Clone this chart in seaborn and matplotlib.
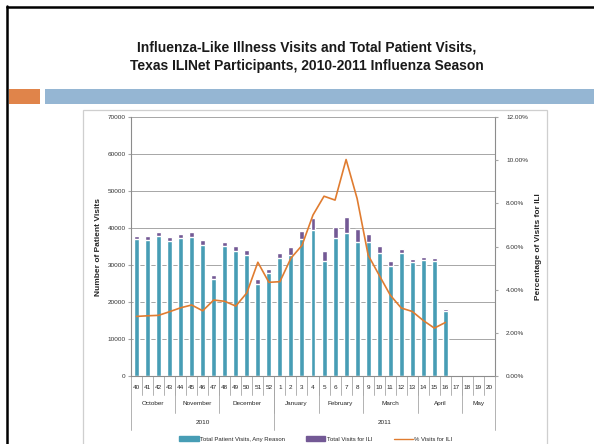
import numpy as np
import pandas as pd
import matplotlib.pyplot as plt
import matplotlib.patches as mpatches
from matplotlib import font_manager
from matplotlib.lines import Line2D
import seaborn as sns

sns.set_style('white')
plt.rcParams['font.family'] = ['Liberation Sans', 'DejaVu Sans']

# week labels on the x axis (the season runs to week 20, data to week 16)
weeks_all = ['40', '41', '42', '43', '44', '45', '46', '47', '48', '49', '50', '51', '52',
             '1', '2', '3', '4', '5', '6', '7', '8', '9', '10', '11', '12', '13', '14',
             '15', '16', '17', '18', '19', '20']
weeks = weeks_all[:29]

visits_any = [36900, 36630, 37710, 36540, 37350, 37620, 35540, 26320, 35090, 33910,
              32830, 24960, 27770, 31840, 32740, 36900, 39520, 31200, 37170, 38520,
              36350, 36270, 33280, 29750, 33370, 30840, 31380, 31200, 17630]
visits_ili = [1000, 1080, 1180, 1080, 1080, 1180, 1180, 1080, 1260, 1180,
              1270, 1360, 1260, 1530, 1990, 2350, 3170, 2630, 3160, 4350,
              3260, 1980, 1720, 1360, 1080, 900, 900, 810, 550]
pct_ili = [2.76, 2.79, 2.81, 2.98, 3.16, 3.29, 3.02, 3.52, 3.46, 3.24,
           3.85, 5.27, 4.34, 4.37, 5.46, 6.05, 7.46, 8.33, 8.15, 10.03,
           8.22, 5.60, 4.67, 3.75, 3.15, 2.99, 2.57, 2.22, 2.48]

months = ['October', 'November', 'December', 'January', 'February', 'March', 'April', 'May']
month_len = [4, 4, 5, 4, 4, 5, 4, 3]
years = ['2010', '2011']
year_len = [13, 20]

title_lines = ['Influenza-Like Illness Visits and Total Patient Visits,',
               'Texas ILINet Participants, 2010-2011 Influenza Season']

teal = '#479db5'
purple = '#735995'
orange = '#e07c30'
grid_c = '#a6a6a6'

df = pd.DataFrame({'week': weeks, 'any': visits_any, 'ili': visits_ili})
df['total'] = df['any'] + df['ili']

fig = plt.figure(figsize=(5.94, 4.44), dpi=100)

# slide decoration
fig.add_artist(Line2D([7 / 594, 7 / 594], [0, 1 - 6 / 444], color='black', lw=1.8))
fig.add_artist(Line2D([7 / 594, 1], [1 - 7 / 444, 1 - 7 / 444], color='black', lw=1.8))
fig.add_artist(mpatches.Rectangle((9 / 594, 1 - 104 / 444), 31 / 594, 15 / 444,
                                  transform=fig.transFigure, color='#e0844a', lw=0))
fig.add_artist(mpatches.Rectangle((45 / 594, 1 - 104 / 444), 549 / 594, 15 / 444,
                                  transform=fig.transFigure, color='#95b6d3', lw=0))
fig.add_artist(mpatches.Rectangle((83 / 594, -0.05), 464 / 594, 1.05 - 110 / 444,
                                  transform=fig.transFigure, fill=False,
                                  edgecolor='#cfcfcf', lw=0.9))

# narrow bold title; pick a condensed face if one is installed
installed = {f.name for f in font_manager.fontManager.ttflist}
title_font = 'DejaVu Sans'
for name in ['Liberation Sans Narrow', 'DejaVu Sans Condensed', 'Liberation Sans']:
    if name in installed:
        title_font = name
        break
t1 = fig.text(307 / 594, 1 - 48 / 444, title_lines[0], ha='center', va='center',
              fontsize=10, fontweight='bold', family=title_font, color='#1a1a1a')
t2 = fig.text(307 / 594, 1 - 66 / 444, title_lines[1], ha='center', va='center',
              fontsize=10, fontweight='bold', family=title_font, color='#1a1a1a')
renderer = fig.canvas.get_renderer()
w1 = t1.get_window_extent(renderer).width
size = min(10, 10 * 346 / w1)
t1.set_fontsize(size)
t2.set_fontsize(size)

ax = fig.add_axes([131 / 594, 68 / 444, 364 / 594, 259 / 444])
sns.barplot(data=df, x='week', y='total', order=weeks_all, color=purple,
            width=0.45, saturation=1, ax=ax)
sns.barplot(data=df, x='week', y='any', order=weeks_all, color=teal,
            width=0.45, saturation=1, ax=ax)

ax.set_xlim(-0.5, len(weeks_all) - 0.5)
ax.set_ylim(0, 70000)
ax.set_yticks(range(0, 70001, 10000))
ax.tick_params(axis='y', labelsize=4.6, length=2, color=grid_c, pad=2, left=True,
               labelcolor='#333333')
ax.set_xticks([])
ax.set_xlabel('')
ax.set_ylabel('Number of Patient Visits', fontsize=6, fontweight='bold', labelpad=4)
ax.grid(axis='y', color=grid_c, lw=0.7)
ax.set_axisbelow(True)
for s in ['left', 'bottom', 'right']:
    ax.spines[s].set_color('#8c8c8c')
    ax.spines[s].set_linewidth(0.8)
ax.spines['top'].set_visible(False)

ax2 = ax.twinx()
sns.lineplot(x=np.arange(len(pct_ili)), y=pct_ili, color=orange, lw=1.2, ax=ax2)
ax2.set_ylim(0, 12)
ax2.set_yticks(range(0, 13, 2))
ax2.set_yticklabels([f'{v:.2f}%' for v in range(0, 13, 2)])
ax2.tick_params(axis='y', labelsize=4.6, length=2, color=grid_c, pad=6, right=True,
                labelcolor='#333333')
ax2.set_ylabel('Percentage of Visits for ILI', fontsize=6, fontweight='bold', labelpad=5)
for s in ax2.spines.values():
    s.set_visible(False)
ax2.grid(False)

# multi-level category axis
trans = ax.get_xaxis_transform()
for i, w in enumerate(weeks_all):
    ax.text(i, -0.046, w, transform=trans, ha='center', va='center', fontsize=4.6)
for b in range(1, len(weeks_all)):
    ax.plot([b - 0.5, b - 0.5], [0, -0.0734], transform=trans, color=grid_c,
            lw=0.6, clip_on=False)
start = 0
for m, n in zip(months, month_len):
    ax.text(start + n / 2 - 0.5, -0.108, m, transform=trans, ha='center', va='center',
            fontsize=4.6)
    start += n
    if start < len(weeks_all):
        ax.plot([start - 0.5, start - 0.5], [0, -0.143], transform=trans, color=grid_c,
                lw=0.6, clip_on=False)
start = 0
for y, n in zip(years, year_len):
    ax.text(start + n / 2 - 0.5, -0.178, y, transform=trans, ha='center', va='center',
            fontsize=4.6)
    start += n
for edge in [-0.5, 13 - 0.5, len(weeks_all) - 0.5]:
    ax.plot([edge, edge], [0, -0.2085], transform=trans, color=grid_c, lw=0.6,
            clip_on=False)

handles = [mpatches.Patch(color=teal), mpatches.Patch(color=purple),
           Line2D([], [], color=orange, lw=1)]
labels = ['Total Patient Visits, Any Reason', 'Total Visits for ILI', '% Visits for ILI']
fig.legend(handles, labels, loc='center', bbox_to_anchor=(316 / 594, 1 - 439 / 444),
           ncol=3, frameon=False, fontsize=4.3, handlelength=3.2, handleheight=0.9,
           columnspacing=3.5, handletextpad=0.3)

fig.savefig('out.png', dpi=100)
